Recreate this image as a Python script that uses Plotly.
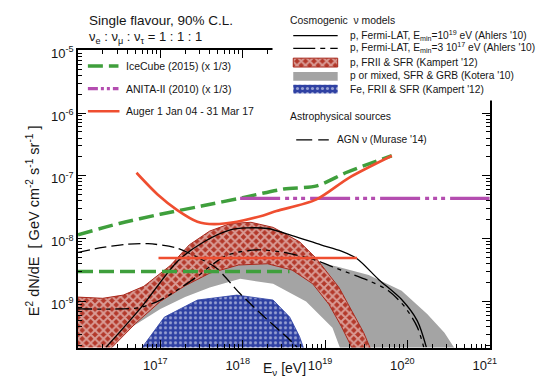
import plotly.graph_objects as go

W, H = 554, 381

# ---------------- data (energies in eV, flux in GeV cm^-2 s^-1 sr^-1) ----------------
ICECUBE_E = [1e16, 3.16e16, 1e17, 3.16e17, 1e18, 3.16e18, 7.94e18, 1.78e19, 3.55e19, 6.46e19]
ICECUBE_F = [1.15e-8, 1.74e-8, 2.45e-8, 3.3e-8, 4.5e-8, 6.17e-8, 6.92e-8, 1.12e-7, 1.58e-7, 2.09e-7]

ICECUBE2_E = [1e16, 3.7e18]
ICECUBE2_F = [3.0e-9, 3.0e-9]

ANITA_E = [9.3e17, 1e21]
ANITA_F = [4.37e-8, 4.37e-8]

AUGER_E = [5.13e16, 9.33e16, 1.62e17, 2.82e17, 4.47e17, 8.5e17, 1.78e18, 2.57e18, 7.76e18, 1.95e19, 6.46e19]
AUGER_F = [1.12e-7, 5.0e-8, 2.82e-8, 1.86e-8, 1.70e-8, 1.86e-8, 2.34e-8, 2.75e-8, 4.17e-8, 9.3e-8, 2.09e-7]

AUGER2_E = [9.5e16, 2.45e19]
AUGER2_F = [4.9e-9, 4.9e-9]

AHLERS19_E = [2.19e16, 5.89e16, 1.62e17, 3.39e17, 7.08e17, 1.12e18, 2.0e18, 3.98e18, 8.91e18,
              1.58e19, 2.45e19, 4.47e19, 8.51e19, 1.32e20, 1.70e20]
AHLERS19_F = [1.86e-10, 8.13e-10, 4.37e-9, 8.91e-9, 1.38e-8, 1.48e-8, 1.45e-8, 1.12e-8, 7.94e-9,
              6.31e-9, 4.79e-9, 2.24e-9, 1.07e-9, 4.9e-10, 1.86e-10]

AHLERS17_E = [1e16, 3.16e16, 5.62e16, 1e17, 1.78e17, 2.82e17, 6.31e17, 1.48e18, 3.16e18, 7.94e18,
              1.35e19, 3.39e19, 5.89e19, 9.33e19, 1.32e20, 1.58e20]
AHLERS17_F = [7.59e-10, 7.59e-10, 7.94e-10, 1.05e-9, 1.66e-9, 2.51e-9, 5.37e-9, 6.61e-9, 6.03e-9, 4.47e-9,
              3.39e-9, 2.14e-9, 1.48e-9, 8.13e-10, 3.89e-10, 1.86e-10]

AGN_E = [1e16, 2e16, 3.98e16, 7.08e16, 1.58e17, 2.95e17, 4.79e17, 9.33e17, 1.95e18, 3.72e18, 4.57e18]
AGN_F = [6.03e-9, 7.24e-9, 8.13e-9, 8.32e-9, 7.08e-9, 4.9e-9, 3.39e-9, 1.32e-9, 5.25e-10, 2.45e-10, 1.86e-10]

KAMPERT_P_UP_E = [1e16, 2e16, 3.55e16, 6.31e16, 1.32e17, 2.24e17, 3.98e17, 7.08e17, 1.26e18, 2.34e18,
                  4.9e18, 7.76e18, 1.48e19, 2.24e19, 2.95e19, 3.55e19]
KAMPERT_P_UP_F = [1.17e-9, 1.12e-9, 1.26e-9, 1.74e-9, 3.72e-9, 7.94e-9, 1.32e-8, 1.74e-8, 1.82e-8, 1.51e-8,
                  8.91e-9, 4.9e-9, 1.66e-9, 6.31e-10, 3.16e-10, 1.78e-10]
KAMPERT_P_LO_E = [1e16, 2.51e16, 5.01e16, 1e17, 2e17, 3.98e17, 8.91e17, 2e18, 3.98e18, 7.08e18,
                  1.12e19, 1.58e19, 2.14e19]
KAMPERT_P_LO_F = [1.26e-10, 1.78e-10, 4.47e-10, 1e-9, 1.78e-9, 2.82e-9, 3.8e-9, 3.98e-9, 3.16e-9, 1.91e-9,
                  8.91e-10, 3.98e-10, 1.78e-10]

KOTERA_UP_E = [1.58e16, 3.16e16, 1e17, 3.16e17, 1e18, 3.16e18, 7.94e18, 1.35e19, 3.39e19, 8.51e19,
               1.74e20, 2.82e20, 3.98e20]
KOTERA_UP_F = [1.26e-10, 3.16e-10, 1.12e-9, 3.16e-9, 5.01e-9, 5.01e-9, 4.17e-9, 3.63e-9, 2.63e-9, 1.48e-9,
               6.31e-10, 3.16e-10, 1.58e-10]
KOTERA_LO_E = [1.78e16, 3.98e16, 1e17, 2e17, 3.98e17, 9.33e17, 2.34e18, 5.89e18, 1.23e19, 1.58e19]
KOTERA_LO_F = [1.58e-10, 3.55e-10, 7.59e-10, 1.17e-9, 1.66e-9, 2.29e-9, 1.91e-9, 1e-9, 3.8e-10, 1.58e-10]

KAMPERT_FE_UP_E = [5.89e16, 1.12e17, 2.82e17, 8.51e17, 2.34e18, 3.72e18, 4.9e18, 5.5e18]
KAMPERT_FE_UP_F = [1.78e-10, 5.62e-10, 1.05e-9, 1.26e-9, 1.05e-9, 5.62e-10, 2.75e-10, 1.78e-10]
KAMPERT_FE_LO_E = [5.89e16, 5.5e18]
KAMPERT_FE_LO_F = [1e-10, 1e-10]

X_TICKS = [1e17, 1e18, 1e19, 1e20, 1e21]
X_TICKTEXT = ["10<sup>17</sup>", "10<sup>18</sup>", "10<sup>19</sup>", "10<sup>20</sup>", "10<sup>21</sup>"]
Y_TICKS = [1e-9, 1e-8, 1e-7, 1e-6, 1e-5]
Y_TICKTEXT = ["10<sup>-9</sup>", "10<sup>-8</sup>", "10<sup>-7</sup>", "10<sup>-6</sup>", "10<sup>-5</sup>"]

# ---------------- styles ----------------
GREEN = "#3f9f3c"
MAGENTA = "#b44db0"
RED = "#ef4e30"
GREY = "#a4a4a4"
BLUE = "#2f41a3"
DARKRED = "#b3382a"
FONT = "Liberation Sans"
INK = "#151515"

RED_PATTERN = dict(shape="x", bgcolor=DARKRED, fgcolor="white", size=6, solidity=0.55)
BLUE_PATTERN = dict(shape=".", bgcolor=BLUE, fgcolor="white", size=5, solidity=0.3)

DASH_ICE = "15px,6px"
DASH_ANITA = "40px,5px,4px,4px,4px,4px,4px,5px"
DASH_A17 = "14px,5px,4px,5px,4px,5px"
DASH_AGN = "12px,5px"

fig = go.Figure()


def band(xu, yu, xl, yl):
    return list(xu) + list(xl)[::-1], list(yu) + list(yl)[::-1]


# bands
bx, by = band(KOTERA_UP_E, KOTERA_UP_F, KOTERA_LO_E, KOTERA_LO_F)
fig.add_trace(go.Scatter(x=bx, y=by, fill="toself", fillcolor=GREY, line=dict(width=0),
                         mode="lines", showlegend=False, hoverinfo="skip"))
bx, by = band(KAMPERT_P_UP_E, KAMPERT_P_UP_F, KAMPERT_P_LO_E, KAMPERT_P_LO_F)
fig.add_trace(go.Scatter(x=bx, y=by, fill="toself", fillcolor=DARKRED, fillpattern=RED_PATTERN,
                         line=dict(width=1, color="#a8281c"), mode="lines", showlegend=False, hoverinfo="skip"))
bx, by = band(KAMPERT_FE_UP_E, KAMPERT_FE_UP_F, KAMPERT_FE_LO_E, KAMPERT_FE_LO_F)
fig.add_trace(go.Scatter(x=bx, y=by, fill="toself", fillcolor=BLUE, fillpattern=BLUE_PATTERN,
                         line=dict(width=0.8, color=BLUE), mode="lines", showlegend=False, hoverinfo="skip"))


def add_line(x, y, color, width, dash="solid"):
    fig.add_trace(go.Scatter(x=x, y=y, mode="lines", line=dict(color=color, width=width, dash=dash,
                                                                 shape="spline", smoothing=0.8),
                             showlegend=False, hoverinfo="skip"))


add_line(AHLERS19_E, AHLERS19_F, "black", 1.3)
add_line(AHLERS17_E, AHLERS17_F, "black", 1.3, DASH_A17)
add_line(AGN_E, AGN_F, "black", 1.3, DASH_AGN)

add_line(ICECUBE_E, ICECUBE_F, GREEN, 3.5, DASH_ICE)
add_line(ICECUBE2_E, ICECUBE2_F, GREEN, 3.5, DASH_ICE)
add_line(ANITA_E, ANITA_F, MAGENTA, 3.2, DASH_ANITA)
add_line(AUGER_E, AUGER_F, RED, 2.6)
add_line(AUGER2_E, AUGER2_F, RED, 2.6)


# ---------------- legend (pixel overlay axis) ----------------
def px_line(x0, x1, y, color, width, dash="solid"):
    fig.add_trace(go.Scatter(x=[x0, x1], y=[y, y], xaxis="x2", yaxis="y2", mode="lines",
                             line=dict(color=color, width=width, dash=dash),
                             showlegend=False, hoverinfo="skip"))


def px_box(x0, x1, y0, y1, color, pattern=None, outline=None):
    kw = dict(fillpattern=pattern) if pattern else {}
    fig.add_trace(go.Scatter(x=[x0, x1, x1, x0, x0], y=[y0, y0, y1, y1, y0], xaxis="x2", yaxis="y2",
                             mode="lines", fill="toself", fillcolor=color,
                             line=dict(width=1 if outline else 0, color=outline or color),
                             showlegend=False, hoverinfo="skip", **kw))


# white legend panel that hides the upper-right part of the frame
px_box(276, 554, 0, 96, "white")

px_line(89, 120, 61, GREEN, 3.5, DASH_ICE)
px_line(89, 120, 84, MAGENTA, 3.2, "10px,3px,3px,3px,3px,3px")
px_line(89, 121, 107, RED, 2.6)

px_line(297, 342, 30, "black", 1.3)
px_line(297, 342, 43, "black", 1.3, "22px,5px,5px,5px")
px_box(297, 342, 53, 62, DARKRED, RED_PATTERN, "#a8281c")
px_box(297, 342, 67, 76, GREY)
px_box(297, 342, 80, 89, BLUE, BLUE_PATTERN)
px_line(300, 333, 136, "black", 1.3, "16px,6px")


def text(x, y, s, size=9, anchor="left", color=INK, angle=0, yanchor="middle"):
    fig.add_annotation(x=x / W, y=1 - y / H, xref="paper", yref="paper", text=s, showarrow=False,
                       xanchor=anchor, yanchor=yanchor, textangle=angle,
                       font=dict(family=FONT, size=size, color=color))


text(88, 15, "Single flavour, 90% C.L.", 13.5)
text(88, 32, "ν<sub>e</sub> : ν<sub>μ</sub> : ν<sub>τ</sub> = 1 : 1 : 1", 13)

text(126, 61, "IceCube (2015) (x 1/3)", 10.5)
text(126, 84, "ANITA-II (2010) (x 1/3)", 10.5)
text(126, 107, "Auger 1 Jan 04 - 31 Mar 17", 10.5)

text(292, 15, "Cosmogenic  ν models", 10.4)
text(352, 30, "p, Fermi-LAT, E<sub>min</sub>=10<sup>19</sup> eV (Ahlers '10)", 10.2)
text(352, 43, "p, Fermi-LAT, E<sub>min</sub>=3 10<sup>17</sup> eV (Ahlers '10)", 10.2)
text(352, 57, "p, FRII & SFR (Kampert '12)", 10.2)
text(352, 71, "p or mixed, SFR & GRB (Kotera '10)", 10.2)
text(352, 85, "Fe, FRII & SFR (Kampert '12)", 10.2)
text(292, 112, "Astrophysical sources", 10.4)
text(339, 136, "AGN ν (Murase '14)", 10.2)

text(288, 369, "E<sub>ν</sub> [eV]", 14, anchor="center")
text(33, 218, "E<sup>2</sup> dN/dE  [ GeV cm<sup>-2</sup> s<sup>-1</sup> sr<sup>-1</sup> ]", 14.5,
     anchor="center", angle=-90)

# ---------------- axes ----------------
X_MINOR = [k * 10.0 ** d for d in range(16, 21) for k in range(2, 10)]
Y_MINOR = [k * 10.0 ** d for d in range(-10, -5) for k in range(2, 10)]


def axis(minor_vals):
    return dict(showline=True, linecolor="black", linewidth=1.5, mirror="ticks", ticks="inside",
                tickcolor="black", tickwidth=1.3, ticklen=8, showgrid=False, zeroline=False,
                tickfont=dict(family=FONT, size=13, color=INK), tickmode="array",
                minor=dict(ticks="inside", ticklen=4, tickcolor="black", tickwidth=1,
                           tickmode="array", tickvals=minor_vals, showgrid=False))


fig.update_layout(
    width=W, height=H, margin=dict(l=0, r=0, t=0, b=0), paper_bgcolor="white",
    plot_bgcolor="rgba(0,0,0,0)",
    showlegend=False,
    xaxis=dict(type="log", range=[16, 21], domain=[79 / W, 496 / W], tickvals=X_TICKS, ticktext=X_TICKTEXT,
               anchor="y", ticklabelstandoff=5, ticklabelshift=-5, **axis(X_MINOR)),
    yaxis=dict(type="log", range=[-9.735, -5], domain=[1 - 347 / H, 1 - 45 / H], tickvals=Y_TICKS,
               ticktext=Y_TICKTEXT, anchor="x", ticklabelshift=3, **axis(Y_MINOR)),
    xaxis2=dict(domain=[0, 1], range=[0, W], visible=False, anchor="y2"),
    yaxis2=dict(domain=[0, 1], range=[H, 0], visible=False, anchor="x2"),
)

fig.write_html("out.html", config={"displayModeBar": False},
               post_script="document.body.style.margin='0';document.body.style.overflow='hidden';")
